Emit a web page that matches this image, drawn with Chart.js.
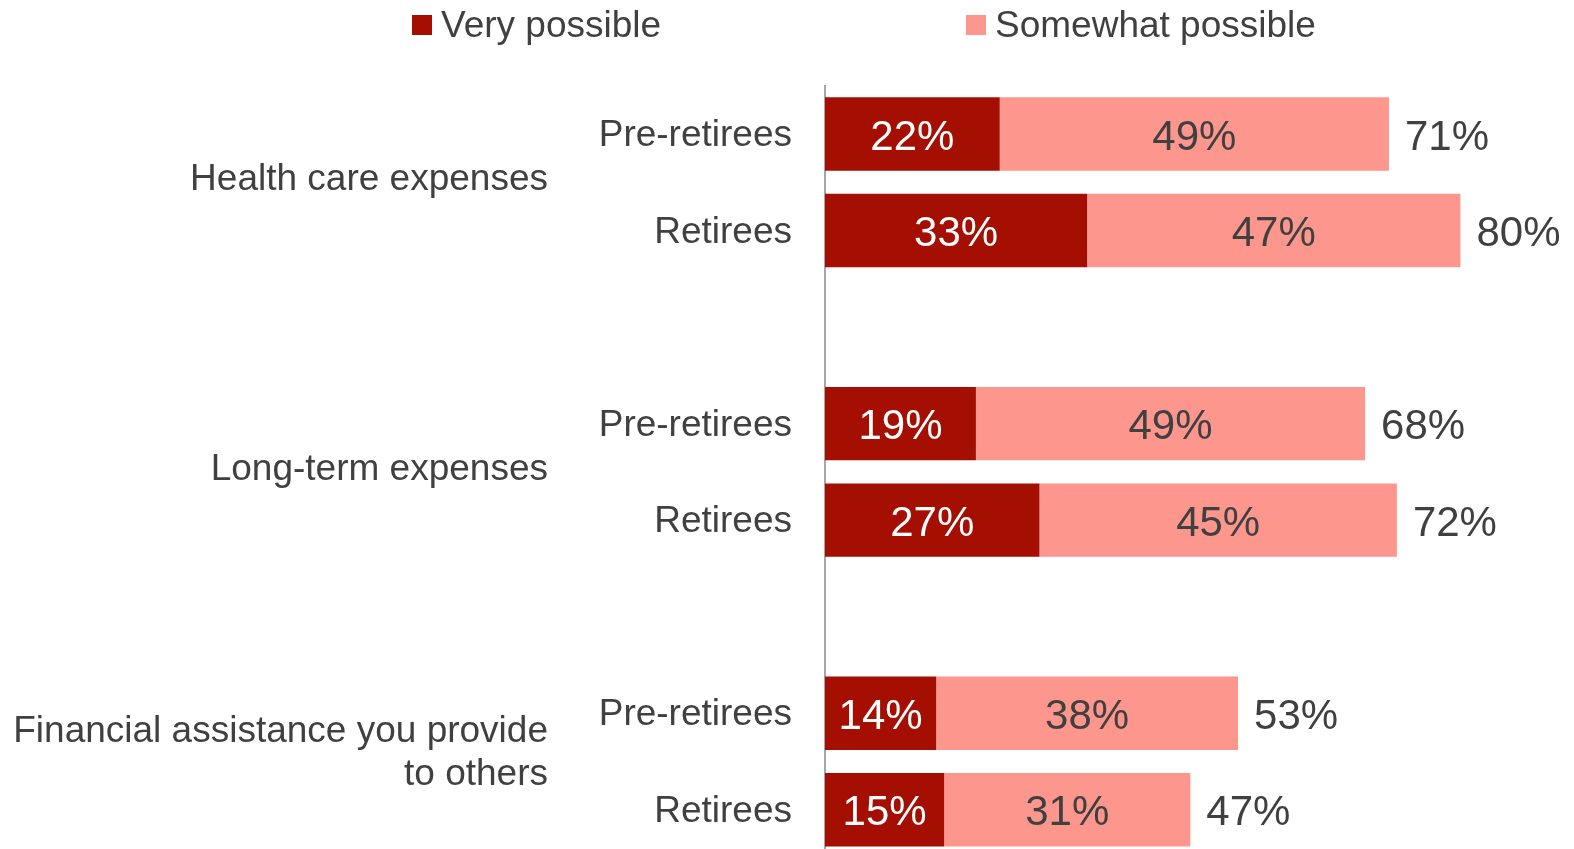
<!DOCTYPE html>
<html lang="en">
<head>
    <meta charset="UTF-8">
    <title>Expenses possibility</title>
    <style>
        body {
            margin: 0;
            padding: 0;
            width: 1574px;
            height: 849px;
            overflow: hidden;
            background: #ffffff;
            font-family: "Liberation Sans", Arial, sans-serif;
        }
        #wrap {
            position: relative;
            width: 1574px;
            height: 858px;
        }
        .legend-item {
            position: absolute;
            top: 5px;
            display: flex;
            align-items: center;
            font-size: 37px;
            color: #404040;
            line-height: 40px;
        }
        .legend-item span.box {
            display: inline-block;
            width: 20px;
            height: 20px;
            margin-right: 9px;
        }
    </style>
    <script src="https://cdn.jsdelivr.net/npm/chart.js"></script>
</head>
<body>
    <div id="wrap">
        <canvas id="chart" width="1574" height="858"></canvas>
        <div class="legend-item" style="left:412px"><span class="box" id="lg0"></span><span id="lt0"></span></div>
        <div class="legend-item" style="left:966px"><span class="box" id="lg1"></span><span id="lt1"></span></div>
    </div>

    <script>
        // data
        const groups = ['Health care expenses', 'Long-term expenses', ['Financial assistance you provide', 'to others']];
        const segments = ['Pre-retirees', 'Retirees'];
        const seriesNames = ['Very possible', 'Somewhat possible'];
        const veryPossible = [22, 33, 19, 27, 14, 15];
        const somewhatPossible = [49, 47, 49, 45, 38, 31];
        const totals = [71, 80, 68, 72, 53, 47];

        const darkRed = '#A50F02';
        const pink = '#FD968D';
        const textColor = '#404040';
        const fontFamily = '"Liberation Sans", Arial, sans-serif';

        // build padded category list with an empty slot between groups
        const labels = [];
        const slotIndex = [];
        const groupSlots = [];
        groups.forEach((g, gi) => {
            if (gi > 0) labels.push('');
            const slots = [];
            segments.forEach(s => {
                slots.push(labels.length);
                slotIndex.push(labels.length);
                labels.push(s);
            });
            groupSlots.push(slots);
        });
        function pad(values) {
            const out = labels.map(() => null);
            values.forEach((v, i) => { out[slotIndex[i]] = v; });
            return out;
        }
        const totalsPadded = pad(totals);

        // legend
        [darkRed, pink].forEach((c, i) => {
            document.getElementById('lg' + i).style.backgroundColor = c;
            document.getElementById('lt' + i).textContent = seriesNames[i];
        });

        const labelPlugin = {
            id: 'valueLabels',
            afterDatasetsDraw(chart) {
                const ctx = chart.ctx;
                ctx.save();
                ctx.textBaseline = 'middle';
                ctx.font = '42px ' + fontFamily;
                chart.data.datasets.forEach((ds, di) => {
                    const meta = chart.getDatasetMeta(di);
                    meta.data.forEach((bar, i) => {
                        if (ds.data[i] == null) return;
                        ctx.fillStyle = di === 0 ? '#ffffff' : textColor;
                        ctx.textAlign = 'center';
                        ctx.fillText(ds.data[i] + '%', (bar.x + bar.base) / 2, bar.y + 4);
                        if (di === 1) {
                            ctx.fillStyle = textColor;
                            ctx.textAlign = 'left';
                            ctx.fillText(totalsPadded[i] + '%', bar.x + 16, bar.y + 4);
                        }
                    });
                });

                // group labels left of the segment labels
                const yScale = chart.scales.y;
                ctx.font = '37px ' + fontFamily;
                ctx.fillStyle = textColor;
                ctx.textAlign = 'right';
                groups.forEach((g, gi) => {
                    const slots = groupSlots[gi];
                    const mid = (yScale.getPixelForValue(slots[0]) + yScale.getPixelForValue(slots[slots.length - 1])) / 2;
                    const lines = Array.isArray(g) ? g : [g];
                    const lh = 43;
                    const top = mid - 2 - (lines.length - 1) * lh / 2 - (lines.length - 1) * 6;
                    lines.forEach((ln, li) => {
                        ctx.fillText(ln, 548, top + li * lh);
                    });
                });
                ctx.restore();
            }
        };

        const chart = new Chart(document.getElementById('chart'), {
            type: 'bar',
            data: {
                labels: labels,
                datasets: [
                    {
                        label: seriesNames[0],
                        data: pad(veryPossible),
                        backgroundColor: darkRed,
                        barPercentage: 0.76,
                        categoryPercentage: 1
                    },
                    {
                        label: seriesNames[1],
                        data: pad(somewhatPossible),
                        backgroundColor: pink,
                        barPercentage: 0.76,
                        categoryPercentage: 1
                    }
                ]
            },
            options: {
                indexAxis: 'y',
                responsive: false,
                maintainAspectRatio: false,
                animation: false,
                layout: {
                    padding: { top: 85.7, left: 0, right: 0, bottom: 0 }
                },
                plugins: {
                    legend: { display: false },
                    tooltip: { enabled: false }
                },
                scales: {
                    x: {
                        stacked: true,
                        display: false,
                        min: 0,
                        max: 94.3
                    },
                    y: {
                        stacked: true,
                        grid: { display: false, drawTicks: false },
                        border: { display: true, color: '#A6A6A6', width: 2 },
                        ticks: {
                            color: textColor,
                            padding: 33,
                            labelOffset: 2,
                            font: { size: 37, family: fontFamily }
                        },
                        afterFit(scale) {
                            scale.width = 825;
                            scale.paddingTop = 0;
                            scale.paddingBottom = 0;
                        }
                    }
                }
            },
            plugins: [labelPlugin]
        });
    </script>
</body>
</html>
